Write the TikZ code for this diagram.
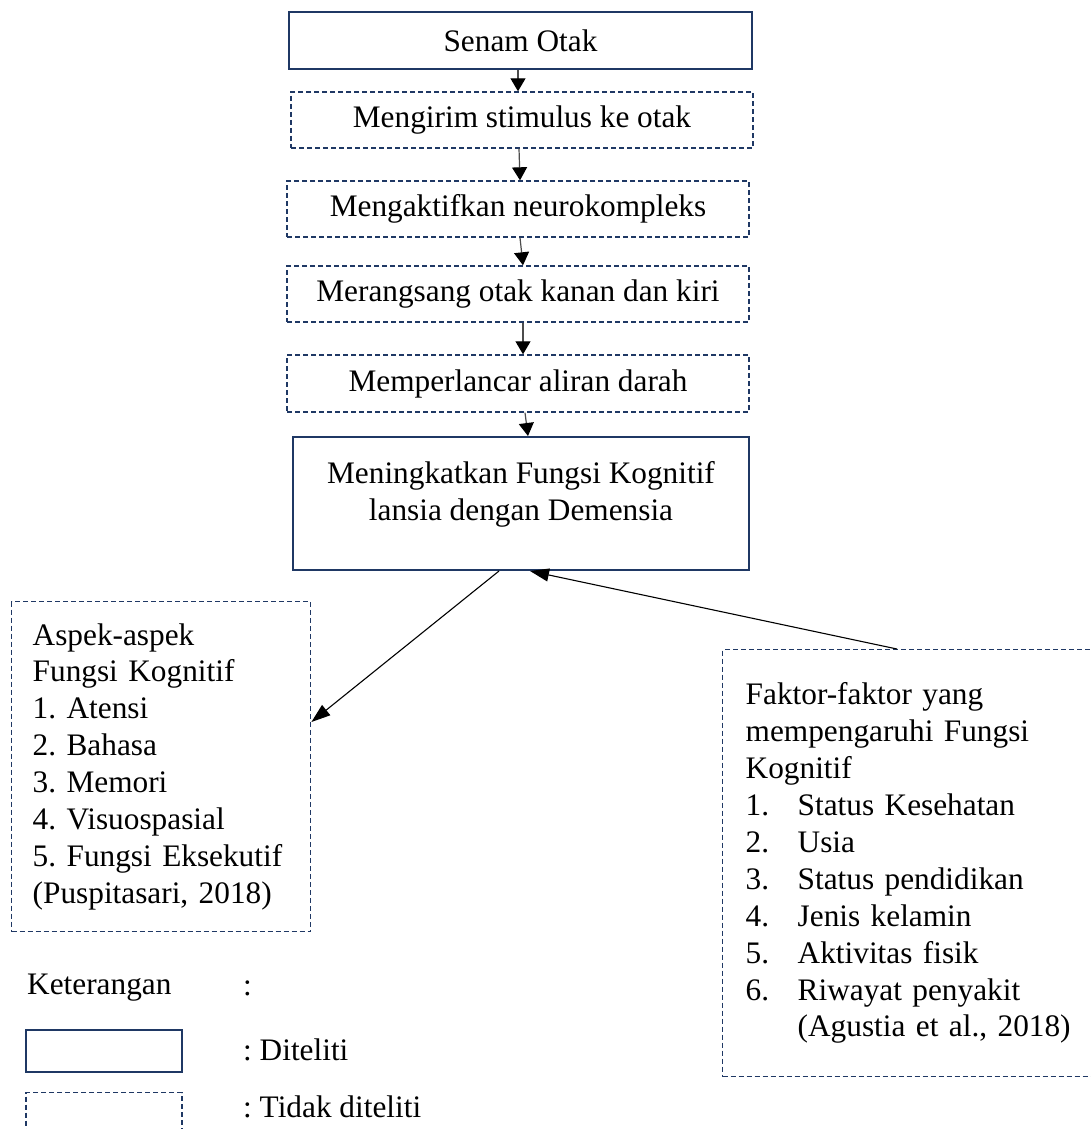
\documentclass[tikz,border=0pt]{standalone}
\usepackage{fontspec}
\setmainfont{Liberation Serif}
\usetikzlibrary{arrows.meta,calc}
\definecolor{navy}{RGB}{31,56,100}
\frenchspacing
\begin{document}
\begin{tikzpicture}[x=1pt,y=-1pt,
  every node/.style={font=\fontsize{31.3}{36.9}\selectfont},
  solidbox/.style={draw=navy, line width=2pt, inner sep=0pt},
  dashbox/.style={draw=navy, line width=1.4pt, dash pattern=on 5pt off 3pt, inner sep=0pt},
  varr/.style={draw=black!70, line width=1.2pt, -{Triangle[width=15pt,length=13pt,color=black,fill=black]}},
  darr/.style={draw=black, line width=1.1pt, -{Triangle[width=13pt,length=19pt]}},
  txt/.style={inner sep=0pt, anchor=west}]
\clip (0,0) rectangle (1091,1129);
\fill[white] (0,0) rectangle (1091,1129);

\node[solidbox, minimum width=463pt, minimum height=57pt] (s0) at (520.5,40.5) {Senam Otak};
\node[dashbox, minimum width=462pt, minimum height=56pt] (s1) at (522,120) {Mengirim stimulus ke otak};
\node[dashbox, minimum width=462pt, minimum height=56pt] (s2) at (518,209) {Mengaktifkan neurokompleks};
\node[dashbox, minimum width=462pt, minimum height=56pt] (s3) at (518,294) {Merangsang otak kanan dan kiri};
\node[dashbox, minimum width=462pt, minimum height=57pt] (s4) at (518,383.5) {Memperlancar aliran darah};
\node[solidbox, minimum width=456pt, minimum height=133pt] (goal) at (521,503.5) {};
\node[align=center, inner sep=0pt] (goaltxt) at (521,494) {Meningkatkan Fungsi Kognitif\\lansia dengan Demensia};

\node[dashbox, anchor=north west, minimum height=330pt, text width=257pt, inner xsep=21pt, align=left] (asp) at (11,601)
 {Aspek-aspek\\Fungsi Kognitif\\1. Atensi\\2. Bahasa\\3. Memori\\4. Visuospasial\\5. Fungsi Eksekutif\\(Puspitasari, 2018)};

\node[dashbox, anchor=north west, minimum height=427pt, text width=420pt, inner xsep=23pt, align=left] (fak) at (722,649)
 {Faktor-faktor yang\\mempengaruhi Fungsi\\Kognitif\\
  \makebox[52pt][l]{1.}Status Kesehatan\\
  \makebox[52pt][l]{2.}Usia\\
  \makebox[52pt][l]{3.}Status pendidikan\\
  \makebox[52pt][l]{4.}Jenis kelamin\\
  \makebox[52pt][l]{5.}Aktivitas fisik\\
  \makebox[52pt][l]{6.}Riwayat penyakit\\
  \hspace*{52pt}(Agustia et al., 2018)};

\draw[varr] ([xshift=-2.5pt]s0.south) -- ([xshift=-4pt]s1.north);
\draw[varr] ([xshift=-3pt]s1.south) -- ([xshift=2pt]s2.north);
\draw[varr] ([xshift=2pt]s2.south) -- ([xshift=5pt]s3.north);
\draw[varr] ([xshift=5pt]s3.south) -- ([xshift=5pt]s4.north);
\draw[varr] ([xshift=7pt]s4.south) -- ([xshift=7pt]goal.north);

\draw[darr] ($(goal.south)+(-22,0)$) -- ($(asp.north east)+(0,121)$);
\draw[darr] ($(fak.north west)+(175,0)$) -- ($(goal.south)+(9,0)$);

\node[txt] (ket) at (27,988) {Keterangan};
\node[txt] (ketc) at (243,988) {:};
\node[solidbox, minimum width=156pt, minimum height=42pt] (lg1) at (104,1051) {};
\node[txt] (lg1t) at (243,1050) {: Diteliti};
\node[dashbox, anchor=north, minimum width=156pt, minimum height=60pt] (lg2) at (104,1092) {};
\node[txt] (lg2t) at (243,1107) {: Tidak diteliti};
\end{tikzpicture}
\end{document}
